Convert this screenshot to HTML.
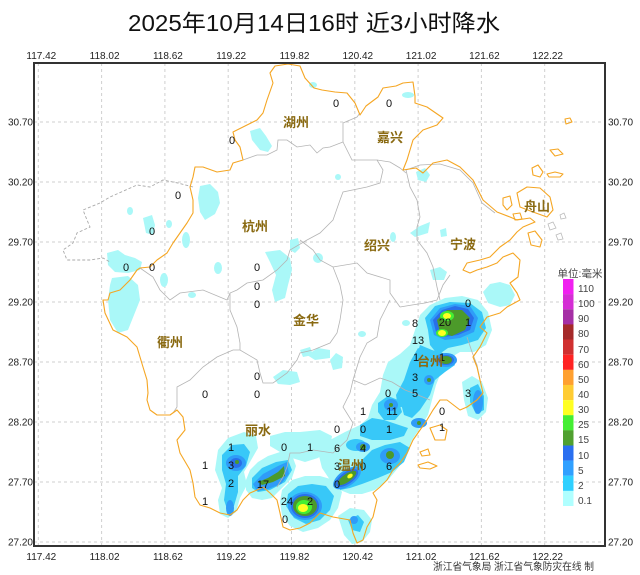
<!DOCTYPE html>
<html><head><meta charset="utf-8"><style>
html,body{margin:0;padding:0;background:#fff;}
svg{display:block;}
.num{font-family:"Liberation Sans",sans-serif;font-size:11px;fill:#111;text-anchor:middle;}
.city{font-family:"Liberation Sans","Noto Sans CJK SC",sans-serif;font-size:13px;font-weight:bold;fill:#8a6a12;text-anchor:middle;}
.tk{font-family:"Liberation Sans",sans-serif;font-size:10px;fill:#222;}
.lg{font-family:"Liberation Sans",sans-serif;font-size:10px;fill:#444;}
</style></head><body>
<svg width="640" height="575" viewBox="0 0 640 575" xmlns="http://www.w3.org/2000/svg">
<rect width="640" height="575" fill="#fff"/>
<text x="314" y="31" font-family="Liberation Sans, Noto Sans CJK SC, sans-serif" font-size="23" fill="#111" text-anchor="middle" textLength="372" lengthAdjust="spacingAndGlyphs">2025年10月14日16时  近3小时降水</text>

<g stroke="#cfcfcf" stroke-width="1" stroke-dasharray="3,3" fill="none">
<line x1="38.3" y1="63" x2="38.3" y2="546"/><line x1="101.6" y1="63" x2="101.6" y2="546"/><line x1="164.9" y1="63" x2="164.9" y2="546"/><line x1="228.2" y1="63" x2="228.2" y2="546"/><line x1="291.5" y1="63" x2="291.5" y2="546"/><line x1="354.8" y1="63" x2="354.8" y2="546"/><line x1="418.1" y1="63" x2="418.1" y2="546"/><line x1="481.4" y1="63" x2="481.4" y2="546"/><line x1="544.7" y1="63" x2="544.7" y2="546"/>
<line x1="34" y1="122" x2="605" y2="122"/><line x1="34" y1="182" x2="605" y2="182"/><line x1="34" y1="242" x2="605" y2="242"/><line x1="34" y1="302" x2="605" y2="302"/><line x1="34" y1="362" x2="605" y2="362"/><line x1="34" y1="422" x2="605" y2="422"/><line x1="34" y1="482" x2="605" y2="482"/><line x1="34" y1="542" x2="605" y2="542"/>
</g>

<g fill="#aaf8f8">
<polygon points="250,131 260,128 266,136 272,146 268,152 260,150 252,140"/>
<ellipse cx="313" cy="85" rx="4" ry="3"/>
<polygon points="200,186 210,184 218,192 220,203 215,214 205,220 200,212 198,198"/>
<polygon points="143,218 152,215 155,225 153,235 146,233"/>
<ellipse cx="130" cy="211" rx="3" ry="4"/>
<ellipse cx="169" cy="224" rx="3" ry="4"/>
<ellipse cx="186" cy="240" rx="4" ry="8"/>
<polygon points="107,253 118,250 125,255 135,258 142,262 140,270 128,273 115,272 108,265"/>
<polygon points="112,278 128,276 138,285 140,300 134,315 128,330 118,333 110,320 108,300 110,285"/>
<ellipse cx="164" cy="280" rx="4" ry="7"/>
<ellipse cx="218" cy="268" rx="4" ry="6"/>
<polygon points="265,252 280,250 290,258 292,270 288,285 285,298 275,302 272,290 276,275 270,262"/>
<polygon points="290,240 298,238 300,248 295,253 290,250"/>
<ellipse cx="318" cy="258" rx="5" ry="5"/>
<ellipse cx="192" cy="295" rx="4" ry="3"/>
<ellipse cx="408" cy="95" rx="6" ry="3"/>
<polygon points="416,172 425,168 430,175 426,182 418,180"/>
<ellipse cx="338" cy="177" rx="3" ry="3"/>
<polygon points="410,233 420,226 430,222 428,233 415,237"/>
<polygon points="440,230 446,228 447,236 441,237"/>
<ellipse cx="393" cy="237" rx="3" ry="5"/>
<polygon points="430,270 440,267 447,272 444,280 433,280"/>
<polygon points="483,292 490,284 500,282 510,285 515,295 510,305 500,307 488,303"/>
<polygon points="273,377 283,370 297,372 300,382 290,385 278,384"/>
<polygon points="307,355 318,348 330,350 330,358 315,360"/>
<polygon points="300,350 310,347 313,355 303,357"/>
<polygon points="330,360 336,353 343,357 342,368 333,370"/>
<ellipse cx="362" cy="334" rx="4" ry="3"/>
<ellipse cx="406" cy="323" rx="4" ry="3"/>
<polygon points="215,470 218,450 228,438 244,432 256,436 258,448 250,462 244,472 247,485 240,498 236,512 228,518 220,514 218,500 222,488"/>
<polygon points="250,470 258,462 268,456 280,452 292,455 296,466 292,478 282,488 272,498 262,500 252,498 246,490 246,480"/>
<polygon points="282,490 292,480 305,476 320,476 334,480 342,492 338,508 330,520 318,528 303,532 290,526 282,515 280,502"/>
<polygon points="270,436 285,432 300,432 320,430 332,436 330,448 318,458 305,462 292,458 280,452 270,446"/>
<polygon points="318,452 330,440 345,432 360,425 368,418 372,405 380,392 383,375 388,362 400,354 410,345 415,330 420,315 430,305 445,298 462,296 478,300 488,312 492,330 486,345 474,352 460,352 450,358 442,370 436,385 432,400 428,415 420,428 412,440 406,455 398,468 388,480 375,490 362,494 350,494 340,490 330,480 322,468"/>
<polygon points="462,382 472,376 482,382 488,398 486,412 478,420 468,416 464,400"/>
<polygon points="338,516 350,508 364,510 372,520 370,532 362,542 352,544 344,535"/>
</g>
<g fill="#38c8f8">
<polygon points="222,455 232,445 244,444 250,452 246,466 238,476 238,492 234,506 228,512 224,500 226,484 222,470"/>
<polygon points="252,478 262,468 276,462 288,460 292,470 285,482 270,490 258,492 252,488"/>
<polygon points="288,494 298,486 312,484 326,486 334,496 330,510 320,520 306,524 294,518 286,506"/>
<polygon points="425,318 435,306 450,302 470,303 482,312 486,328 478,340 462,345 448,348 438,355 430,345 428,330"/>
<polygon points="420,345 432,350 450,355 455,365 445,372 435,380 430,395 420,410 412,418 404,415 400,400 410,385 414,365"/>
<polygon points="340,480 350,470 362,460 372,450 385,445 400,442 410,448 404,462 392,472 378,478 362,484 350,488 340,490"/>
<polygon points="378,403 388,396 398,400 402,412 395,420 384,420 378,412"/>
<polygon points="470,388 478,384 484,396 484,410 476,414 470,402"/>
<polygon points="348,520 358,515 364,522 360,532 352,530"/>
<ellipse cx="356" cy="445" rx="10" ry="6"/>
<polygon points="396,395 404,380 410,362 418,348 426,352 424,372 416,392 408,405 398,408"/>
<polygon points="360,425 372,418 384,420 396,424 408,428 404,436 390,440 372,440 360,436"/>
</g>
<g fill="#2f9cf8">
<ellipse cx="236" cy="463" rx="10" ry="8"/>
<polygon points="253,484 263,474 278,466 287,462 289,474 281,484 268,489 257,491"/>
<ellipse cx="305" cy="506" rx="17" ry="14"/>
<ellipse cx="347" cy="478" rx="16" ry="8" transform="rotate(-35 347 478)"/>
<ellipse cx="363" cy="447" rx="7" ry="5"/>
<ellipse cx="390" cy="456" rx="10" ry="8"/>
<polygon points="430,320 440,308 455,304 470,306 478,318 474,332 460,338 445,340 434,335"/>
<ellipse cx="446" cy="360" rx="11" ry="7"/>
<ellipse cx="429" cy="380" rx="5" ry="5"/>
<ellipse cx="391" cy="405" rx="7" ry="6"/>
<ellipse cx="419" cy="423" rx="8" ry="5"/>
<ellipse cx="478" cy="402" rx="5" ry="12"/>
<ellipse cx="230" cy="508" rx="4" ry="8"/>
<ellipse cx="354" cy="520" rx="4" ry="4"/>
</g>
<g fill="#2a6fe8">
<ellipse cx="236" cy="463" rx="6" ry="5"/>
<ellipse cx="305" cy="506" rx="14" ry="12"/>
<polygon points="433,320 442,310 455,306 468,309 474,318 470,330 458,335 444,337 436,332"/>
<ellipse cx="446" cy="360" rx="8" ry="5"/>
<ellipse cx="347" cy="478" rx="13" ry="6" transform="rotate(-35 347 478)"/>
</g>
<g fill="#4c9a2a">
<circle cx="237" cy="462" r="2"/>
<polygon points="258,482 268,478 278,472 284,466 285,476 273,482 262,485"/>
<ellipse cx="305" cy="506" rx="12" ry="10"/>
<polygon points="437,320 447,310 462,310 470,318 465,330 452,336 440,333"/>
<ellipse cx="446" cy="360" rx="6" ry="4"/>
<ellipse cx="347" cy="478" rx="11" ry="4" transform="rotate(-35 347 478)"/>
<circle cx="363" cy="447" r="3"/>
<circle cx="390" cy="455" r="4"/>
<circle cx="429" cy="380" r="2"/>
<circle cx="391" cy="405" r="2"/>
<circle cx="419" cy="423" r="2"/>
</g>
<g fill="#44ee33">
<ellipse cx="304" cy="507" rx="8" ry="7"/>
<ellipse cx="447" cy="316" rx="7" ry="5"/>
<ellipse cx="442" cy="333" rx="6" ry="4"/>
</g>
<g fill="#ffff22">
<ellipse cx="303" cy="508" rx="5" ry="4"/>
<ellipse cx="447" cy="316" rx="4" ry="3"/>
<ellipse cx="442" cy="333" rx="4" ry="3"/>
<ellipse cx="350" cy="476" rx="3" ry="2" transform="rotate(-35 350 476)"/>
</g>

<polyline points="193,187 178,183 163,180 150,187 137,185 110,197 100,203 83,210 87,220 90,227 77,233 73,243 63,250 67,260 90,260 103,258 110,262" fill="none" stroke="#aaa" stroke-width="0.9" stroke-dasharray="3,2"/>

<g fill="none" stroke="#b4b4b4" stroke-width="0.8">
<polyline points="243,160 257,155 267,155 277,150 278,140 287,140 297,147 310,145 317,153 323,148 330,147 343,142"/>
<polyline points="343,142 343,123 357,117 360,113"/>
<polyline points="343,142 352,160 365,160 377,160 383,170 380,183 367,187 343,192 340,200 333,220 320,233 307,240 290,250 287,260 277,270 263,280 247,283 237,290 230,293 227,300 203,290 180,293 170,300 160,290 153,277 140,268"/>
<polyline points="377,160 390,162 400,168 406,173"/>
<polyline points="406,170 410,187 417,200 420,217 417,227 417,240 427,253 433,267 437,287 440,300"/>
<polyline points="300,240 313,250 320,260 333,267 357,263 367,273 390,280 390,293 400,307"/>
<polyline points="333,267 340,285 343,300 340,320 337,333 330,343 313,350 300,353 297,360 287,373 273,383 263,383 260,373 257,360 240,350 233,350 217,357 203,367 190,380 177,387 177,407 173,413"/>
<polyline points="230,293 230,310 237,327 240,343 240,350"/>
<polyline points="390,300 380,320 377,337 367,343 360,357 357,367 353,380 350,393 343,407 353,423 347,440 333,453 313,450 300,453 290,453 287,467 283,477 277,487"/>
<polyline points="353,380 365,385 380,378 392,382 405,390 418,395 430,400"/>
<polyline points="400,307 412,305 425,303 437,300 443,285 450,275"/>
<polyline points="406,170 420,165 440,164 460,170 473,183 482,203 495,213"/>
<polyline points="467,337 472,352 477,365 480,380"/>
</g>

<g fill="none" stroke="#f5a623" stroke-width="1.1" stroke-linejoin="round">
<polygon points="275,66 288,64 300,66 305,78 314,88 322,90 335,92 347,93 355,103 360,115 366,106 378,97 383,88 396,86 403,83 413,82 415,96 415,103 427,107 443,118 437,125 423,130 413,140 407,160 403,170 416,168 423,173 433,163 447,160 460,167 473,180 483,200 497,212 510,217 517,220 530,218 535,222 523,227 517,232 510,240 500,247 490,257 480,260 467,263 463,270 470,273 477,270 487,267 497,263 503,257 513,253 520,260 518,277 510,283 517,293 520,300 507,307 500,313 487,317 480,327 487,333 480,347 473,357 477,367 480,380 483,393 477,400 467,407 460,410 447,400 440,400 433,410 427,420 420,430 413,440 407,453 400,463 393,470 387,480 380,487 373,493 377,500 373,517 367,527 363,540 357,543 353,533 350,520 333,517 320,513 310,523 300,528 290,530 283,527 280,513 277,500 270,493 263,487 257,490 250,493 243,500 237,510 230,515 220,513 210,508 200,505 195,497 193,483 190,470 180,453 177,440 185,430 183,417 177,410 170,415 157,415 150,410 147,400 148,393 147,380 143,367 140,357 137,347 127,337 113,330 105,313 103,300 108,300 110,293 120,290 130,280 137,270 140,268 150,267 157,260 167,253 173,243 180,233 187,223 193,213 193,200 190,187 193,177 195,167 203,167 217,172 230,170 233,163 243,160 240,147 235,140 233,132 243,127 257,120 263,113 267,100 273,83 270,73"/>
<polygon points="517,193 527,187 540,188 550,197 553,210 547,217 533,212 520,207"/>
<polygon points="503,198 510,196 512,205 507,210 503,205"/>
<polygon points="528,233 535,231 542,240 540,247 531,245"/>
<polygon points="513,214 520,213 522,219 515,220"/>
<polygon points="532,168 538,165 543,172 540,177 533,175"/>
<polygon points="550,150 558,149 563,154 555,156"/>
<polygon points="547,174 555,172 563,174 560,177 549,177"/>
<polygon points="565,119 570,118 572,122 566,124"/>
<polygon points="430,428 440,425 447,430 445,440 435,440"/>
<polygon points="420,452 428,449 430,455 422,456"/>
<polygon points="418,465 428,462 437,466 430,469 420,468"/>
</g>
<g fill="none" stroke="#bbb" stroke-width="0.8">
<polygon points="548,224 553,222 556,228 550,230"/>
<polygon points="556,235 561,233 563,239 558,240"/>
<polygon points="560,215 564,213 566,218 561,219"/>
</g>

<g class="num">
<text x="336" y="107">0</text><text x="389" y="107">0</text><text x="232" y="144">0</text>
<text x="178" y="199">0</text><text x="152" y="235">0</text><text x="126" y="271">0</text><text x="152" y="271">0</text>
<text x="257" y="271">0</text><text x="257" y="290">0</text><text x="257" y="308">0</text>
<text x="257" y="380">0</text><text x="205" y="398">0</text><text x="257" y="398">0</text>
<text x="231" y="451">1</text><text x="284" y="451">0</text><text x="310" y="451">1</text>
<text x="205" y="469">1</text><text x="231" y="469">3</text><text x="231" y="487">2</text>
<text x="263" y="488">17</text><text x="205" y="505">1</text>
<text x="287" y="505">24</text><text x="310" y="505">2</text><text x="285" y="523">0</text>
<text x="337" y="433">0</text><text x="363" y="433">0</text><text x="389" y="433">1</text>
<text x="337" y="452">6</text><text x="363" y="452">4</text>
<text x="337" y="470">3</text><text x="363" y="470">0</text><text x="389" y="470">6</text>
<text x="337" y="488">0</text>
<text x="468" y="307">0</text><text x="415" y="327">8</text><text x="445" y="326">20</text><text x="468" y="326">1</text>
<text x="418" y="344">13</text><text x="416" y="361">1</text><text x="442" y="361">1</text>
<text x="415" y="381">3</text><text x="388" y="397">0</text><text x="415" y="397">5</text><text x="468" y="397">3</text>
<text x="363" y="415">1</text><text x="392" y="415">11</text><text x="442" y="415">0</text>
<text x="442" y="431">1</text>
</g>

<g class="city">
<text x="296" y="127">湖州</text><text x="390" y="142">嘉兴</text><text x="537" y="211">舟山</text>
<text x="255" y="231">杭州</text><text x="377" y="250">绍兴</text><text x="463" y="249">宁波</text>
<text x="306" y="325">金华</text><text x="170" y="347">衢州</text><text x="258" y="435">丽水</text>
<text x="430" y="366">台州</text><text x="351" y="470">温州</text>
</g>

<rect x="34" y="63" width="571" height="483" fill="none" stroke="#333" stroke-width="2"/>

<g class="tk" text-anchor="middle">
<text x="41.3" y="59">117.42</text><text x="104.6" y="59">118.02</text><text x="167.9" y="59">118.62</text><text x="231.2" y="59">119.22</text><text x="294.5" y="59">119.82</text><text x="357.8" y="59">120.42</text><text x="421.1" y="59">121.02</text><text x="484.4" y="59">121.62</text><text x="547.7" y="59">122.22</text>
<text x="41.3" y="560">117.42</text><text x="104.6" y="560">118.02</text><text x="167.9" y="560">118.62</text><text x="231.2" y="560">119.22</text><text x="294.5" y="560">119.82</text><text x="357.8" y="560">120.42</text><text x="421.1" y="560">121.02</text><text x="484.4" y="560">121.62</text><text x="547.7" y="560">122.22</text>
</g>
<g class="tk" text-anchor="end">
<text x="33" y="125.5">30.70</text><text x="33" y="185.5">30.20</text><text x="33" y="245.5">29.70</text><text x="33" y="305.5">29.20</text><text x="33" y="365.5">28.70</text><text x="33" y="425.5">28.20</text><text x="33" y="485.5">27.70</text><text x="33" y="545.5">27.20</text>
</g>
<g class="tk" text-anchor="start">
<text x="608" y="125.5">30.70</text><text x="608" y="185.5">30.20</text><text x="608" y="245.5">29.70</text><text x="608" y="305.5">29.20</text><text x="608" y="365.5">28.70</text><text x="608" y="425.5">28.20</text><text x="608" y="485.5">27.70</text><text x="608" y="545.5">27.20</text>
</g>

<text x="580" y="277" font-family="Liberation Sans, Noto Sans CJK SC, sans-serif" font-size="10.5" fill="#444" text-anchor="middle">单位:毫米</text>
<g>
<rect x="563" y="279" width="10.5" height="15.2" fill="#f020f0"/>
<rect x="563" y="294.1" width="10.5" height="15.2" fill="#d42ed4"/>
<rect x="563" y="309.3" width="10.5" height="15.2" fill="#a52fa5"/>
<rect x="563" y="324.4" width="10.5" height="15.2" fill="#a52a2a"/>
<rect x="563" y="339.5" width="10.5" height="15.2" fill="#d03030"/>
<rect x="563" y="354.7" width="10.5" height="15.2" fill="#ff2424"/>
<rect x="563" y="369.8" width="10.5" height="15.2" fill="#ffa030"/>
<rect x="563" y="384.9" width="10.5" height="15.2" fill="#ffcc33"/>
<rect x="563" y="400.1" width="10.5" height="15.2" fill="#ffff22"/>
<rect x="563" y="415.2" width="10.5" height="15.2" fill="#44ee33"/>
<rect x="563" y="430.3" width="10.5" height="15.2" fill="#50a030"/>
<rect x="563" y="445.5" width="10.5" height="15.2" fill="#2a6ff0"/>
<rect x="563" y="460.6" width="10.5" height="15.2" fill="#30a0ff"/>
<rect x="563" y="475.7" width="10.5" height="15.2" fill="#30d0ff"/>
<rect x="563" y="490.9" width="10.5" height="15.1" fill="#b0ffff"/>
</g>
<g class="lg">
<text x="578" y="292">110</text><text x="578" y="307">100</text><text x="578" y="322">90</text><text x="578" y="337">80</text><text x="578" y="353">70</text><text x="578" y="368">60</text><text x="578" y="383">50</text><text x="578" y="398">40</text><text x="578" y="413">30</text><text x="578" y="428">25</text><text x="578" y="443">15</text><text x="578" y="459">10</text><text x="578" y="474">5</text><text x="578" y="489">2</text><text x="578" y="504">0.1</text>
</g>

<text x="433" y="570" font-family="Liberation Sans, Noto Sans CJK SC, sans-serif" font-size="10" fill="#333" textLength="161" lengthAdjust="spacingAndGlyphs">浙江省气象局 浙江省气象防灾在线 制</text>
</svg>
</body></html>
